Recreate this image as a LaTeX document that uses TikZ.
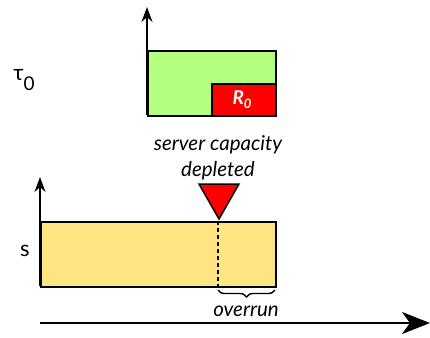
\documentclass[tikz,border=0pt]{standalone}
\usepackage{fontspec}
\setmainfont{Lato}
\usetikzlibrary{arrows.meta,decorations.pathreplacing}
\definecolor{budgetgreen}{RGB}{180,255,128}
\definecolor{servyellow}{RGB}{255,228,130}
\definecolor{runred}{RGB}{255,0,0}
\tikzset{
  box/.style={draw=black, line width=1.8bp},
  axis/.style={line width=1.8bp, -{Stealth[length=15bp, width=11bp]}},
  note/.style={font=\fontsize{20.5bp}{24bp}\selectfont\itshape, inner sep=0pt},
  rowlabel/.style={font=\fontsize{22bp}{24bp}\selectfont, inner sep=0pt},
}
\begin{document}
\begin{tikzpicture}[x=1bp, y=-1bp]
\useasboundingbox (0,0) rectangle (430,338);

% task tau_0: budget box with the remaining part R_0
\coordinate (t0base) at (147,115);
\coordinate (t0top) at (147,7);
\node[box, fill=budgetgreen, minimum width=128bp, minimum height=65bp, inner sep=0pt, anchor=north west] (task) at (147,50) {};
\node[box, fill=runred, minimum width=64bp, minimum height=32bp, inner sep=0pt, anchor=south east] (rem) at (task.south east) {};
\node[font=\fontsize{19bp}{22bp}\selectfont\bfseries\itshape, text=white, inner sep=0pt] (rlabel) at (242,100) {R\raisebox{-0.22em}{\fontsize{13bp}{14bp}\selectfont 0}};
\draw[axis] (t0base) -- (t0top);
\node[rowlabel] (taulabel) at (24,80) {τ\raisebox{-0.45em}{\fontsize{19bp}{20bp}\selectfont 0}};

% server row
\node[box, fill=servyellow, minimum width=235bp, minimum height=65bp, inner sep=0pt, anchor=north west] (server) at (40,221) {};
\coordinate (sbase) at (40,286);
\coordinate (stop) at (40,177);
\draw[axis] (sbase) -- (stop);
\node[rowlabel] (slabel) at (25,251) {s};

% capacity depletion marker
\coordinate (dtop) at (218,221);
\coordinate (dbot) at (218,286);
\draw[line width=1.6bp, dash pattern=on 4bp off 3bp] (dtop) -- (dbot);
\draw[line width=1.5bp, fill=runred, line join=miter] (199,184) -- (239,184) -- (219,219) -- cycle;
\node[note] (cap1) at (218,145) {server capacity};
\node[note] (cap2) at (218,171) {depleted};

% overrun brace
\coordinate (bl) at (218,290);
\coordinate (br) at (275,290);
\draw[line width=1.4bp, decorate, decoration={brace, mirror, amplitude=7bp}] (bl) -- (br);
\node[note] (over) at (246,311) {overrun};

% time axis
\coordinate (tstart) at (40,323);
\coordinate (tend) at (430,323);
\draw[line width=2bp, -{Stealth[length=28bp, width=22bp, inset=8bp]}] (tstart) -- (tend);
\end{tikzpicture}
\end{document}
